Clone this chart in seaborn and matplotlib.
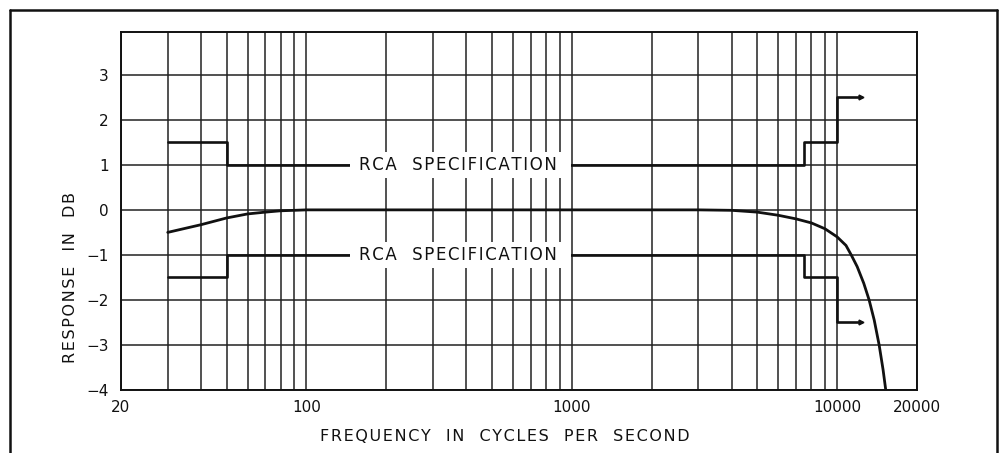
import matplotlib
matplotlib.use("Agg")
import matplotlib.pyplot as plt
from matplotlib.lines import Line2D
from matplotlib.patches import Rectangle
from matplotlib.ticker import FixedLocator, NullFormatter
import seaborn as sns
import pandas as pd

# Measured frequency response of the amplifier (dB vs Hz)
resp_freq = [30, 40, 50, 60, 70, 80, 90, 100, 200, 500, 1000, 2000, 3000,
             4000, 5000, 6000, 7000, 8000, 9000, 10000, 10800, 11300,
             11900, 12600, 13200, 13800, 14400, 14900, 15250]
resp_db = [-0.5, -0.33, -0.18, -0.09, -0.05, -0.02, -0.01, 0.0, 0.0, 0.0,
           0.0, 0.0, 0.0, -0.01, -0.05, -0.12, -0.2, -0.29, -0.42, -0.6,
           -0.79, -1.0, -1.26, -1.63, -2.0, -2.45, -3.0, -3.55, -4.0]

# RCA specification limits (step boundaries in Hz)
spec_freq = [30, 50, 7500, 10000, 12300]
spec_upper = [1.5, 1.0, 1.5, 2.5, 2.5]
spec_lower = [-1.5, -1.0, -1.5, -2.5, -2.5]
spec_text = "RCA  SPECIFICATION"
spec_text_freq = 372
spec_box_freq = (146, 990)

# Axis ticks
x_major = [20, 100, 1000, 10000, 20000]
x_major_labels = ["20", "100", "1000", "10000", "20000"]
x_minor = [30, 40, 50, 60, 70, 80, 90, 200, 300, 400, 500, 600, 700, 800,
           900, 2000, 3000, 4000, 5000, 6000, 7000, 8000, 9000]
y_ticks = [-4, -3, -2, -1, 0, 1, 2, 3]
y_tick_labels = ["\u22124", "\u22123", "\u22122", "\u22121", "0", "1", "2", "3"]

x_title = "FREQUENCY  IN  CYCLES  PER  SECOND"
y_title = "RESPONSE  IN  DB"


def tracked(s):
    """Wide-tracked lettering: a hair space between every character."""
    return "\u200a".join(s)


sns.set_theme(style="white")
plt.rcParams["font.family"] = ["DejaVu Sans"]

fig = plt.figure(figsize=(9.99, 4.53), dpi=100)
ax = fig.add_axes([121 / 999, 1 - 390 / 453, 796 / 999, 358 / 453])
ax.set_xscale("log")
ax.set_xlim(20, 20000)
ax.set_ylim(-4, 3.95)

ink = "#111111"
grid_kw = dict(color="#222222", lw=1.1, zorder=1)

ax.xaxis.set_major_locator(FixedLocator(x_major))
ax.xaxis.set_minor_locator(FixedLocator(x_minor))
ax.xaxis.set_minor_formatter(NullFormatter())
ax.set_xticks(x_major, x_major_labels)
ax.set_yticks(y_ticks, y_tick_labels)
ax.grid(True, which="both", axis="x", **grid_kw)
ax.grid(True, which="major", axis="y", **grid_kw)
ax.tick_params(axis="both", which="both", length=0, labelsize=11,
               colors=ink)
ax.tick_params(axis="x", pad=7)
ax.tick_params(axis="y", pad=9)
ax.set_axisbelow(True)
for s in ax.spines.values():
    s.set_color(ink)
    s.set_linewidth(1.4)

# Specification limit lines
spec_df = pd.DataFrame({"freq": spec_freq, "upper": spec_upper,
                        "lower": spec_lower})
for col in ["upper", "lower"]:
    sns.lineplot(data=spec_df, x="freq", y=col, ax=ax, color=ink, lw=1.9,
                 estimator=None, sort=False, drawstyle="steps-post",
                 zorder=3)
    ax.plot(spec_df["freq"].iloc[-1], spec_df[col].iloc[-1], marker=">",
            ms=3.5, color=ink, zorder=3)

# Measured response curve
resp_df = pd.DataFrame({"freq": resp_freq, "db": resp_db})
sns.lineplot(data=resp_df, x="freq", y="db", ax=ax, color=ink, lw=2.0,
             estimator=None, sort=False, zorder=4)

# Labels on the specification lines, masking the grid behind them
for level in (spec_df["upper"].iloc[1], spec_df["lower"].iloc[1]):
    ax.add_patch(Rectangle((spec_box_freq[0], level - 0.29),
                           spec_box_freq[1] - spec_box_freq[0], 0.58,
                           facecolor="white", edgecolor="none", zorder=5))
    ax.text(spec_text_freq, level, tracked(spec_text), ha="center",
            va="center", fontsize=12, color=ink, zorder=6)

ax.set_xlabel(tracked(x_title), fontsize=11.5, color=ink)
ax.set_ylabel(tracked(y_title), fontsize=11.5, color=ink)
ax.xaxis.set_label_coords(0.482, -0.109)
ax.yaxis.set_label_coords(-0.054, 0.313)

# Outer border of the plate
for xs, ys in [((10, 10), (0, 443)), ((10, 997), (443, 443)),
               ((997, 997), (443, 0))]:
    fig.add_artist(Line2D([x / 999 for x in xs], [y / 453 for y in ys],
                          color=ink, lw=1.8))

fig.savefig("out.png", dpi=100, facecolor="white")
